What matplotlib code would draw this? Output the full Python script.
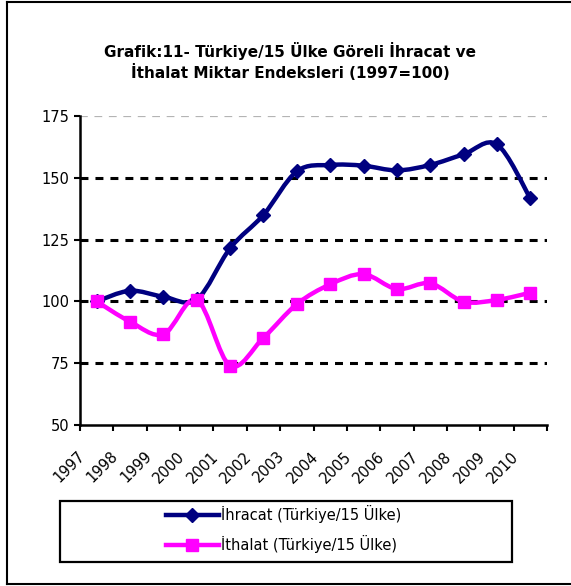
import matplotlib
matplotlib.use("Agg")
import matplotlib.pyplot as plt
import numpy as np
from matplotlib.path import Path
from matplotlib.patches import PathPatch, Rectangle
from matplotlib.lines import Line2D
from matplotlib.transforms import ScaledTranslation

plt.rcParams['font.family'] = ['DejaVu Sans']

years = ['1997', '1998', '1999', '2000', '2001', '2002', '2003',
         '2004', '2005', '2006', '2007', '2008', '2009', '2010']
ihracat = [100, 104.3, 101.9, 100.8, 121.5, 135.0, 152.6,
           155.2, 154.9, 153.0, 155.2, 159.5, 163.5, 141.7]
ithalat = [100, 91.8, 86.7, 100.6, 74.0, 85.3, 98.9,
           106.9, 111.0, 105.0, 107.3, 99.9, 100.6, 103.5]

title = "Grafik:11- Türkiye/15 Ülke Göreli İhracat ve\nİthalat Miktar Endeksleri (1997=100)"
lbl_ihr = "İhracat (Türkiye/15 Ülke)"
lbl_ith = "İthalat (Türkiye/15 Ülke)"

navy = "#000080"
magenta = "#FF00FF"

W, H = 571, 586
fig = plt.figure(figsize=(W / 100, H / 100), dpi=100)
ax = fig.add_axes([80 / W, 1 - 425 / H, (547 - 80) / W, (425 - 116) / H])


def smooth_path(xs, ys):
    # excel-like smoothed line: bezier segments through the points
    p = np.column_stack([xs, ys]).astype(float)
    n = len(p)
    verts = [p[0]]
    codes = [Path.MOVETO]
    for i in range(n - 1):
        p0 = p[max(i - 1, 0)]
        p1 = p[i]
        p2 = p[i + 1]
        p3 = p[min(i + 2, n - 1)]
        c1 = p1 + (p2 - p0) / 6.0
        c2 = p2 - (p3 - p1) / 6.0
        verts += [c1, c2, p2]
        codes += [Path.CURVE4] * 3
    return Path(verts, codes)


x = np.arange(len(years)) + 0.5

# gridlines
for g in [75, 100, 125, 150]:
    ax.axhline(g, color='black', lw=2.2, linestyle=(0, (2.6, 2.3)), zorder=1)
ax.axhline(175, color='#b4b4b4', lw=1.6, linestyle=(0, (3.5, 3)), zorder=1)

ax.add_patch(PathPatch(smooth_path(x, ihracat), fill=False, edgecolor=navy,
                       lw=3.2, capstyle='round', joinstyle='round', zorder=3))
ax.plot(x, ihracat, linestyle='none', marker='D', markersize=7.5,
        color=navy, zorder=4)
ax.add_patch(PathPatch(smooth_path(x, ithalat), fill=False, edgecolor=magenta,
                       lw=3.2, capstyle='round', joinstyle='round', zorder=3))
ax.plot(x, ithalat, linestyle='none', marker='s', markersize=8.5,
        color=magenta, zorder=4)

ax.set_xlim(0, len(years))
ax.set_ylim(50, 175)
ax.set_yticks([50, 75, 100, 125, 150, 175])
ax.tick_params(axis='y', labelsize=10.5, length=4.5, width=1.5, pad=3)

ax.set_xticks(np.arange(len(years) + 1))
ax.set_xticklabels([])
ax.tick_params(axis='x', which='major', length=4.5, width=1.5)
ax.set_xticks(x, minor=True)
ax.set_xticklabels(years, minor=True, rotation=45, ha='right', fontsize=10.5)
ax.tick_params(axis='x', which='minor', length=0, pad=17)
shift = ScaledTranslation(-9 / 100, 0, fig.dpi_scale_trans)
for t in ax.get_xticklabels(minor=True):
    t.set_transform(t.get_transform() + shift)

for s in ['top', 'right']:
    ax.spines[s].set_visible(False)
for s in ['left', 'bottom']:
    ax.spines[s].set_linewidth(1.8)

fig.text(290 / W, 1 - 61.5 / H, title, ha='center', va='center',
         fontsize=11, fontweight='bold', linespacing=1.25)

# legend box
fig.patches.append(Rectangle((60 / W, 1 - 562 / H), (512 - 60) / W, (562 - 501) / H,
                             transform=fig.transFigure, fill=False,
                             edgecolor='black', lw=1.6))
handles = [Line2D([], [], color=navy, lw=3.2, marker='D', markersize=7.5),
           Line2D([], [], color=magenta, lw=3.2, marker='s', markersize=8.5)]
fig.legend(handles, [lbl_ihr, lbl_ith], frameon=False, loc='center left',
           bbox_to_anchor=(166 / W, 1 - 529 / H), fontsize=10.5,
           handlelength=3.6, handletextpad=0.15, labelspacing=0.85,
           borderpad=0, borderaxespad=0)

# outer frame
fig.add_artist(Line2D([7 / W, 7 / W], [1 - 584 / H, 1 - 2 / H], color='black', lw=1.5,
                      transform=fig.transFigure))
fig.add_artist(Line2D([7 / W, 1], [1 - 2 / H, 1 - 2 / H], color='black', lw=1.5,
                      transform=fig.transFigure))
fig.add_artist(Line2D([7 / W, 1], [1 - 584 / H, 1 - 584 / H], color='black', lw=1.5,
                      transform=fig.transFigure))

plt.savefig("out.png", dpi=100)
